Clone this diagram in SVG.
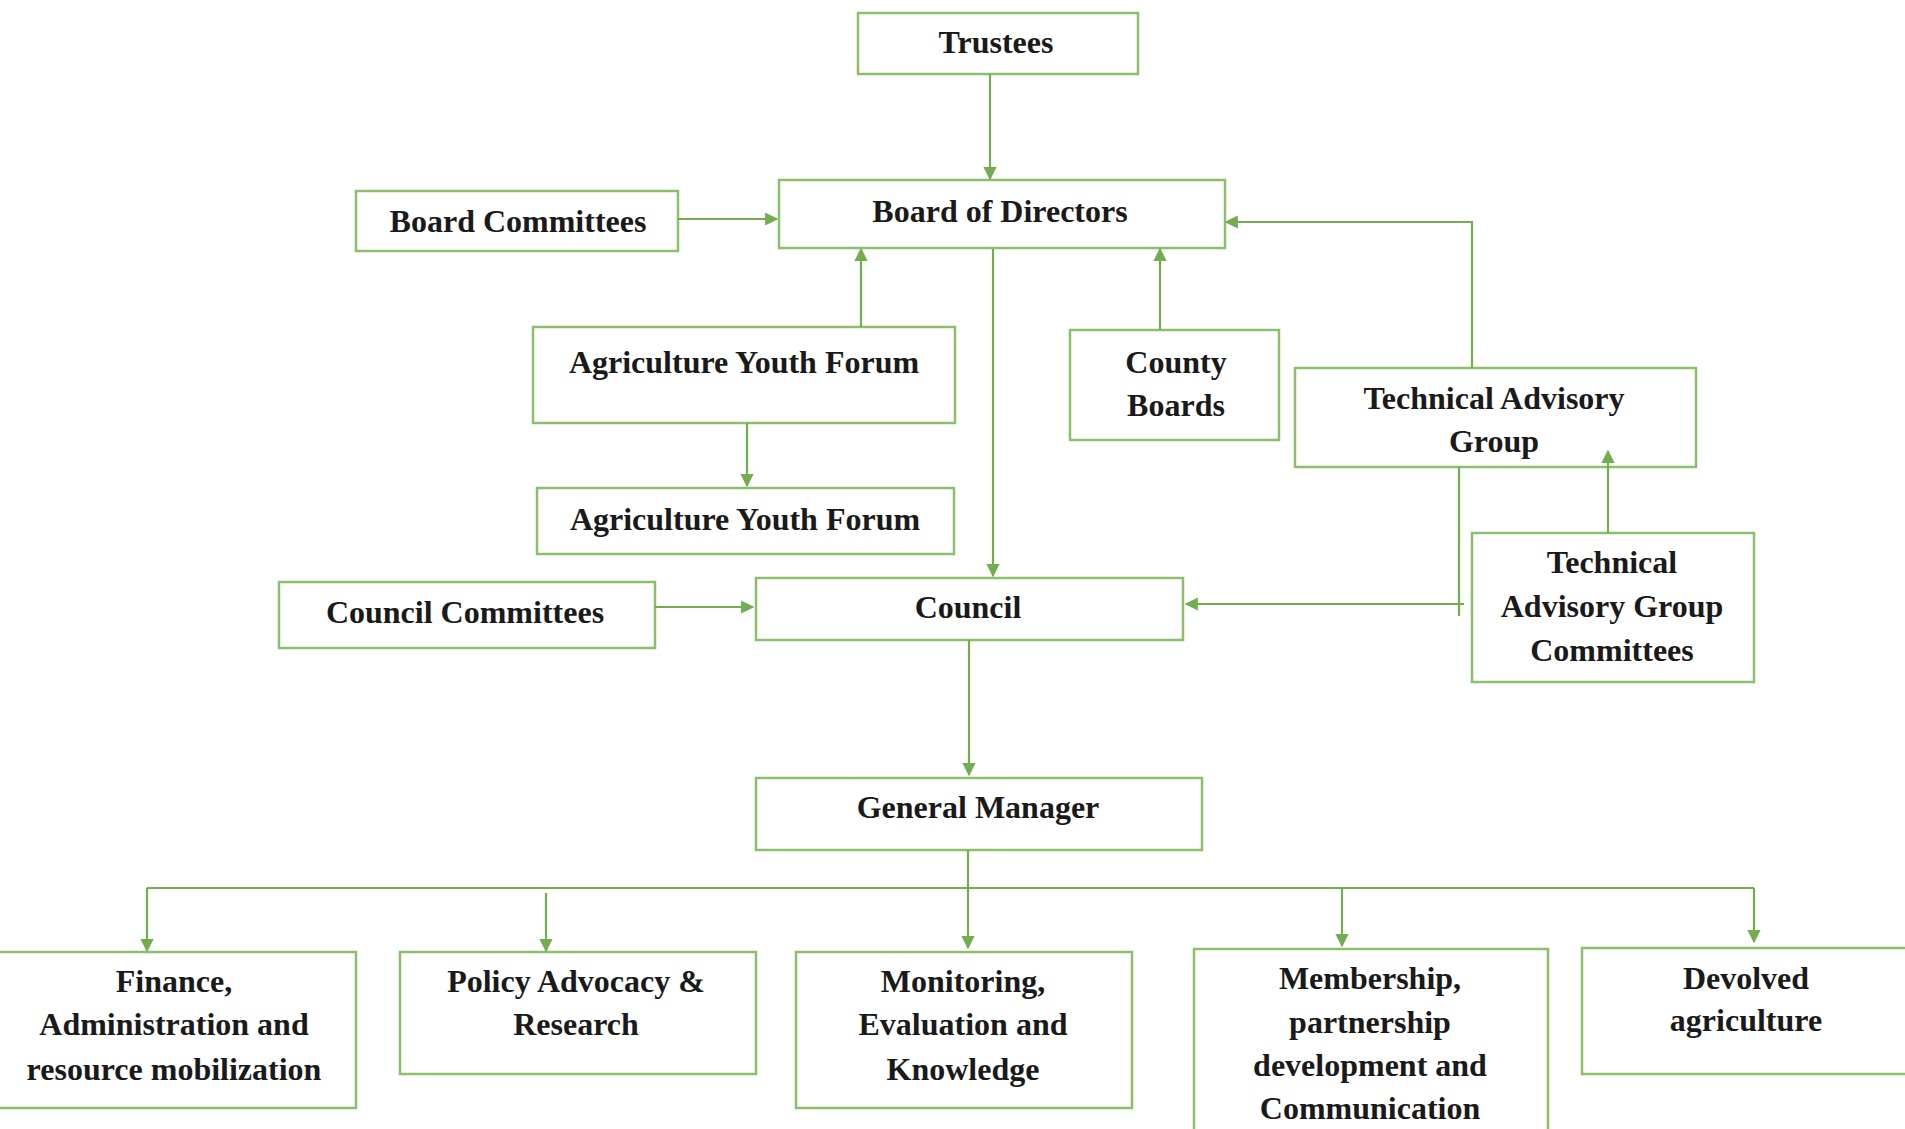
<svg xmlns="http://www.w3.org/2000/svg" width="1905" height="1129" viewBox="0 0 1905 1129">
<defs>
<style>
.box{fill:#ffffff;stroke:#8cbf6c;stroke-width:2.5}
.t{font-family:"Liberation Serif","Times New Roman",serif;font-weight:bold;font-size:32px;fill:#1a1a1a;text-anchor:middle}
.c{fill:none;stroke:#74ac52;stroke-width:2.2}
.a{marker-end:url(#arr)}
</style>
<marker id="arr" viewBox="0 0 10 10" refX="9" refY="5" markerWidth="6" markerHeight="6" orient="auto" markerUnits="strokeWidth">
<path d="M0,0 L10,5 L0,10 z" fill="#74ac52"/>
</marker>
</defs>
<rect width="1905" height="1129" fill="#ffffff"/>
<g id="trustees"><rect class="box" x="858" y="13" width="280" height="61"/><text class="t" x="996" y="53">Trustees</text></g>
<g id="board-of-directors"><rect class="box" x="779" y="180" width="446" height="68"/><text class="t" x="1000" y="222">Board of Directors</text></g>
<g id="board-committees"><rect class="box" x="356" y="191" width="322" height="60"/><text class="t" x="518" y="232">Board Committees</text></g>
<g id="agriculture-youth-forum-1"><rect class="box" x="533" y="327" width="422" height="96"/><text class="t" x="744" y="373">Agriculture Youth Forum</text></g>
<g id="agriculture-youth-forum-2"><rect class="box" x="537" y="488" width="417" height="66"/><text class="t" x="745" y="530">Agriculture Youth Forum</text></g>
<g id="county-boards"><rect class="box" x="1070" y="330" width="209" height="110"/><text class="t" x="1176" y="373">County</text><text class="t" x="1176" y="416">Boards</text></g>
<g id="technical-advisory-group"><rect class="box" x="1295" y="368" width="401" height="99"/><text class="t" x="1494" y="409">Technical Advisory</text><text class="t" x="1494" y="452">Group</text></g>
<g id="tag-committees"><rect class="box" x="1472" y="533" width="282" height="149"/><text class="t" x="1612" y="573">Technical</text><text class="t" x="1612" y="617">Advisory Group</text><text class="t" x="1612" y="661">Committees</text></g>
<g id="council-committees"><rect class="box" x="279" y="582" width="376" height="66"/><text class="t" x="465" y="623">Council Committees</text></g>
<g id="council"><rect class="box" x="756" y="578" width="427" height="62"/><text class="t" x="968" y="618">Council</text></g>
<g id="general-manager"><rect class="box" x="756" y="778" width="446" height="72"/><text class="t" x="978" y="818">General Manager</text></g>
<g id="finance"><rect class="box" x="-2" y="952" width="358" height="156"/><text class="t" x="174" y="992">Finance,</text><text class="t" x="174" y="1035">Administration and</text><text class="t" x="174" y="1080">resource mobilization</text></g>
<g id="policy"><rect class="box" x="400" y="952" width="356" height="122"/><text class="t" x="576" y="992">Policy Advocacy &amp;</text><text class="t" x="576" y="1035">Research</text></g>
<g id="monitoring"><rect class="box" x="796" y="952" width="336" height="156"/><text class="t" x="963" y="992">Monitoring,</text><text class="t" x="963" y="1035">Evaluation and</text><text class="t" x="963" y="1080">Knowledge</text></g>
<g id="membership"><rect class="box" x="1194" y="949" width="354" height="200"/><text class="t" x="1370" y="989">Membership,</text><text class="t" x="1370" y="1033">partnership</text><text class="t" x="1370" y="1076">development and</text><text class="t" x="1370" y="1119">Communication</text></g>
<g id="devolved"><rect class="box" x="1582" y="948" width="340" height="126"/><text class="t" x="1746" y="989">Devolved</text><text class="t" x="1746" y="1031">agriculture</text></g>
<g id="connectors">
<path class="c a" d="M990,74 V179"/>
<path class="c a" d="M678,219 H777"/>
<path class="c a" d="M861,327 V249"/>
<path class="c a" d="M1160,330 V249"/>
<path class="c a" d="M1472,368 V222 H1226"/>
<path class="c a" d="M993,249 V576"/>
<path class="c a" d="M747,423 V486"/>
<path class="c" d="M1459,467 V616"/>
<path class="c a" d="M1464,604 H1186"/>
<path class="c a" d="M1608,533 V451"/>
<path class="c a" d="M655,607 H753"/>
<path class="c a" d="M969,640 V775"/>
<path class="c" d="M968,850 V888"/>
<path class="c" d="M147,888 H1754"/>
<path class="c a" d="M147,888 V951"/>
<path class="c a" d="M546,893 V951"/>
<path class="c a" d="M968,888 V948"/>
<path class="c a" d="M1342,888 V946"/>
<path class="c a" d="M1754,888 V942"/>
</g>
</svg>
